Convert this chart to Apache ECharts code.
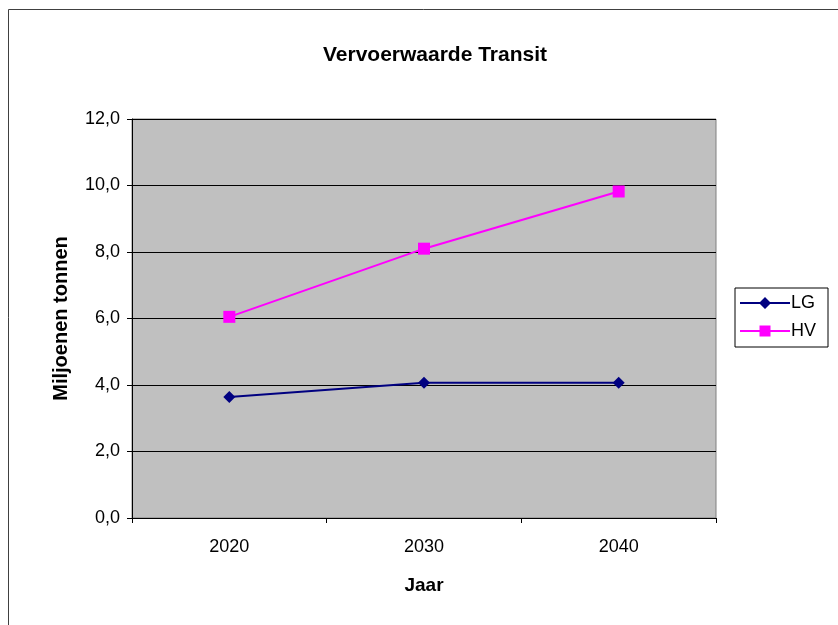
<!DOCTYPE html>
<html><head><meta charset="utf-8">
<script src="https://cdn.jsdelivr.net/npm/echarts@6/dist/echarts.min.js"></script>
<style>html,body{margin:0;padding:0;background:#fff}#c{width:838px;height:625px}</style>
</head><body><div id="c"></div>
<script>
const categories = ['2020', '2030', '2040'];
const lgValues = [3.64, 4.07, 4.07];
const hvValues = [6.05, 8.1, 9.82];
const yTicks = [0, 2, 4, 6, 8, 10, 12];

const chart = echarts.init(document.getElementById('c'), null, {renderer: 'canvas'});
const font = 'Liberation Sans, Arial, sans-serif';
const lgIcon = 'path://M0 6L50 6L50 8L0 8Z M25 1L31 7L25 13L19 7Z';
const hvIcon = 'path://M0 6L50 6L50 8L0 8Z M19.5 1.5L30.5 1.5L30.5 12.5L19.5 12.5Z';
chart.setOption({
  animation: false,
  backgroundColor: '#ffffff',
  graphic: [
    {type: 'rect', shape: {x: 8.5, y: 9.5, width: 840, height: 630}, style: {fill: 'none', stroke: '#404040', lineWidth: 1}, silent: true}
  ],
  title: {
    text: 'Vervoerwaarde Transit', left: 430, top: 40, textAlign: 'center',
    textStyle: {fontFamily: font, fontSize: 21, fontWeight: 'bold', color: '#000'}
  },
  legend: {
    orient: 'vertical', left: 735, top: 288, itemGap: 10,
    backgroundColor: '#fff', borderColor: '#000', borderWidth: 1,
    padding: [6, 12, 7, 5],
    itemWidth: 50, itemHeight: 14,
    textStyle: {fontFamily: font, fontSize: 18, color: '#000', padding: [0, 0, 0, -4]},
    data: [{name: 'LG', icon: lgIcon}, {name: 'HV', icon: hvIcon}]
  },
  grid: {
    left: 132, top: 119, width: 584, height: 399,
    show: true, backgroundColor: '#c0c0c0', borderColor: '#808080', borderWidth: 1
  },
  xAxis: {
    type: 'category', data: categories, boundaryGap: true,
    name: 'Jaar', nameLocation: 'middle', nameGap: 58,
    nameTextStyle: {fontFamily: font, fontSize: 19, fontWeight: 'bold', color: '#000'},
    axisLine: {lineStyle: {color: '#000', width: 1}},
    axisTick: {show: true, length: 5, inside: false, lineStyle: {color: '#000'}},
    axisLabel: {fontFamily: font, fontSize: 18, color: '#000', margin: 20}
  },
  yAxis: {
    type: 'value', min: 0, max: 12, interval: 2,
    name: 'Miljoenen tonnen', nameLocation: 'middle', nameGap: 61, nameRotate: 90,
    nameTextStyle: {fontFamily: font, fontSize: 20, fontWeight: 'bold', color: '#000'},
    axisLine: {show: true, lineStyle: {color: '#000', width: 1}},
    axisTick: {show: true, length: 5, lineStyle: {color: '#000'}},
    axisLabel: {fontFamily: font, fontSize: 18, color: '#000', margin: 12,
      formatter: v => yTicks.includes(v) ? v.toFixed(1).replace('.', ',') : ''},
    splitLine: {show: true, lineStyle: {color: '#000', width: 1}}
  },
  series: [
    {name: 'LG', type: 'line', data: lgValues, symbol: 'diamond', symbolSize: 12,
      lineStyle: {color: '#000080', width: 2}, itemStyle: {color: '#000080'}},
    {name: 'HV', type: 'line', data: hvValues, symbol: 'rect', symbolSize: 12,
      lineStyle: {color: '#ff00ff', width: 2}, itemStyle: {color: '#ff00ff'}}
  ]
});
</script></body></html>
